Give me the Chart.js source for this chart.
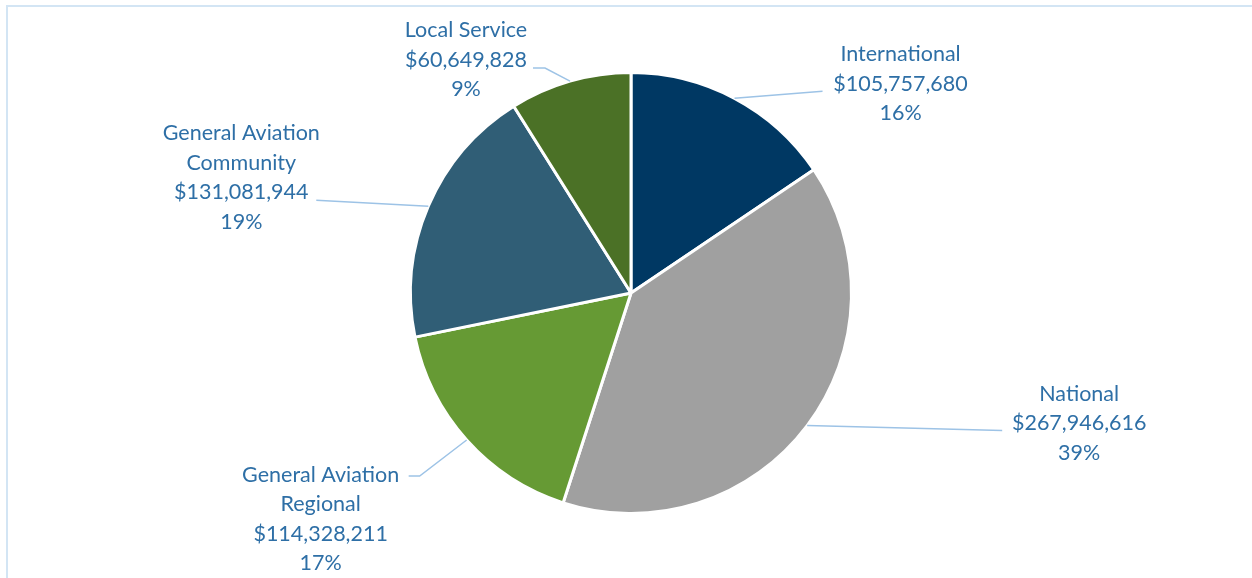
<!DOCTYPE html>
<html>
<head>
<meta charset="utf-8">
<script src="https://cdn.jsdelivr.net/npm/chart.js@4"></script>
<style>
  html, body { margin: 0; padding: 0; background: #fff; }
  #wrap { position: relative; width: 1252px; height: 578px; overflow: hidden; }
  #frame { position: absolute; left: 6px; top: 5px; width: 1300px; height: 700px;
           border-top: 2px solid #d3e5f4; border-left: 2px solid #d3e5f4; pointer-events: none; }
</style>
</head>
<body>
<div id="wrap">
  <canvas id="fundingPie" width="1252" height="578"></canvas>
  <div id="frame"></div>
</div>
<script>
// Funding by airport category
const categories = ['International', 'National', 'General Aviation Regional', 'General Aviation Community', 'Local Service'];
const labelLines = [
    ['International'],
    ['National'],
    ['General Aviation', 'Regional'],
    ['General Aviation', 'Community'],
    ['Local Service']
];
const amounts = [105757680, 267946616, 114328211, 131081944, 60649828];
const sliceColors = ['#003863', '#a0a0a0', '#669a34', '#305e76', '#4b7126'];

// label placement, offsets from the slice's outer mid point (px)
// end = where the leader line stops, elbow = optional bend, text = centre x / first line y
const labelPlacement = [
    { end: [88, -7], text: [166, -44] },
    { end: [195, 5], text: [272, -32] },
    { elbow: [-47, 36], end: [-58, 36], text: [-146, 35] },
    { end: [-112, -6], text: [-187, -73] },
    { elbow: [-25, -13], end: [-37, -13], text: [-104, -51] }
];

const money = v => '$' + v.toLocaleString('en-US');

const leaderLabels = {
    id: 'leaderLabels',
    afterDatasetsDraw(chart) {
        const ctx = chart.ctx;
        const meta = chart.getDatasetMeta(0);
        const total = amounts.reduce((a, b) => a + b, 0);
        ctx.save();
        meta.data.forEach((arc, i) => {
            const p = arc.getProps(['x', 'y', 'startAngle', 'endAngle', 'outerRadius'], true);
            const mid = (p.startAngle + p.endAngle) / 2;
            const ax = p.x + Math.cos(mid) * p.outerRadius;
            const ay = p.y + Math.sin(mid) * p.outerRadius;
            const pl = labelPlacement[i];

            // leader line
            ctx.strokeStyle = '#9dc3e6';
            ctx.lineWidth = 1.5;
            ctx.beginPath();
            ctx.moveTo(ax, ay);
            if (pl.elbow) ctx.lineTo(ax + pl.elbow[0], ay + pl.elbow[1]);
            ctx.lineTo(ax + pl.end[0], ay + pl.end[1]);
            ctx.stroke();

            // text block
            const lines = labelLines[i].concat([money(amounts[i]), Math.round(amounts[i] / total * 100) + '%']);
            ctx.fillStyle = '#2e6fa6';
            ctx.font = '21.5px Lato, "Open Sans", sans-serif';
            ctx.textAlign = 'center';
            ctx.textBaseline = 'middle';
            lines.forEach((t, k) => {
                ctx.fillText(t, ax + pl.text[0], ay + pl.text[1] + k * 29.5);
            });
        });
        ctx.restore();
    }
};

const ctx = document.getElementById('fundingPie').getContext('2d');
new Chart(ctx, {
    type: 'pie',
    data: {
        labels: categories,
        datasets: [{
            data: amounts,
            backgroundColor: sliceColors,
            borderColor: '#ffffff',
            borderWidth: 3
        }]
    },
    options: {
        responsive: false,
        animation: false,
        layout: {
            padding: { top: 71, bottom: 63, left: 10, right: 0 }
        },
        plugins: {
            legend: { display: false },
            tooltip: { enabled: false }
        }
    },
    plugins: [leaderLabels]
});
</script>
</body>
</html>
